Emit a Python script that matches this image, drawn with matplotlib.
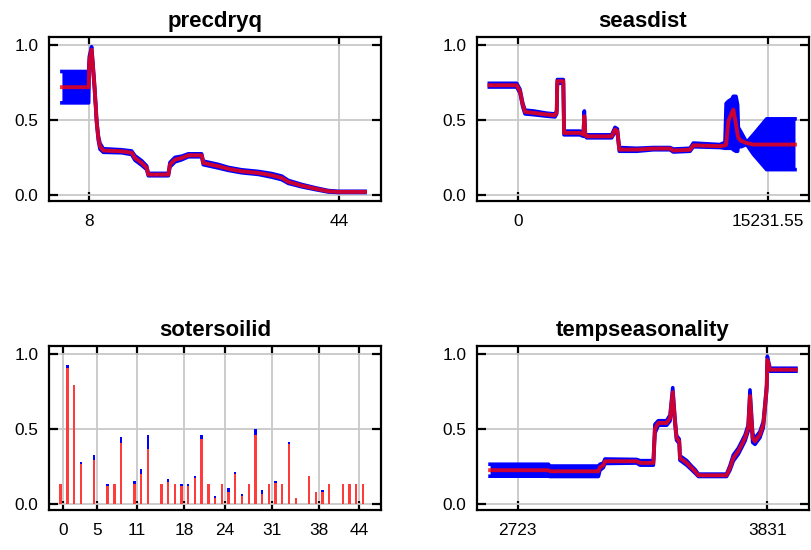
import numpy as np
from matplotlib import pyplot as plt

# precdryq response: mean curve and std
prec_x = [4.1, 7.95, 8.05, 8.38, 8.77, 8.96, 9.1, 9.34, 9.58, 10.06, 12.7, 14.14, 14.62, 15.58,
          16.3, 16.54, 19.43, 19.66, 20.38, 21.34, 22.3, 24.22, 24.46, 26.62, 28.06, 29.98,
          32.38, 34.3, 35.75, 36.7, 38.63, 40.55, 42.47, 43.9, 47.75]
prec_y = [0.719, 0.719, 0.90, 0.97, 0.737, 0.60, 0.49, 0.38, 0.324, 0.295, 0.29, 0.28, 0.245, 0.212,
          0.18, 0.134, 0.134, 0.2, 0.234, 0.245, 0.263, 0.263, 0.212, 0.19, 0.172, 0.156,
          0.145, 0.129, 0.112, 0.085, 0.06, 0.04, 0.022, 0.018, 0.018]
prec_sd = [0.105, 0.105, 0.025, 0.02, 0.015, 0.012, 0.012, 0.015, 0.02, 0.012, 0.01, 0.012, 0.015, 0.015,
           0.012, 0.008, 0.008, 0.015, 0.015, 0.012, 0.01, 0.01, 0.012, 0.012, 0.01, 0.01,
           0.01, 0.012, 0.012, 0.01, 0.008, 0.006, 0.005, 0.004, 0.004]

# seasdist response: mean with lower / upper band
seas_x = [-1728, -63, 140, 303, 445, 952, 1765, 2273, 2374, 2415, 2780, 2821, 3796, 3999, 4060, 4121,
          4202, 5725, 5928, 6071, 6192, 7249, 8264, 9280, 9483, 10498, 10701, 12326, 12631, 12700,
          12834, 13050, 13138, 13301, 13400, 13443, 13600, 13951, 14357, 15170, 16896]
seas_y = [0.732, 0.732, 0.692, 0.603, 0.554, 0.547, 0.536, 0.531, 0.55, 0.759, 0.759, 0.413, 0.413, 0.402, 0.525, 0.40,
          0.39, 0.39, 0.435, 0.425, 0.301, 0.301, 0.308, 0.308, 0.295, 0.30, 0.33, 0.324, 0.33, 0.335,
          0.491, 0.55, 0.569, 0.469, 0.40, 0.38, 0.36, 0.345, 0.335, 0.335, 0.335]
seas_lo = [0.72, 0.72, 0.68, 0.59, 0.54, 0.535, 0.525, 0.52, 0.54, 0.745, 0.745, 0.40, 0.40, 0.39, 0.50, 0.39,
           0.38, 0.38, 0.42, 0.41, 0.29, 0.29, 0.30, 0.30, 0.285, 0.29, 0.32, 0.315, 0.31, 0.31,
           0.31, 0.31, 0.30, 0.29, 0.29, 0.33, 0.32, 0.335, 0.27, 0.167, 0.167]
seas_hi = [0.745, 0.745, 0.705, 0.615, 0.565, 0.56, 0.545, 0.54, 0.56, 0.77, 0.77, 0.425, 0.425, 0.41, 0.56, 0.41,
           0.40, 0.40, 0.45, 0.44, 0.315, 0.31, 0.315, 0.315, 0.305, 0.31, 0.345, 0.335, 0.35, 0.61,
           0.625, 0.64, 0.658, 0.658, 0.60, 0.45, 0.42, 0.35, 0.40, 0.507, 0.507]

# sotersoilid categories: mean and mean+std
soil_cat = [0, 1, 2, 3, 5, 7, 8, 9, 11, 12, 13, 15, 16, 17, 18, 19, 20, 21, 22, 23,
            24, 25, 26, 27, 28, 29, 30, 31, 32, 33, 34, 35, 37, 38, 39, 40, 42, 43, 44, 45]
soil_mean = [0.134, 0.908, 0.792, 0.266, 0.29, 0.12, 0.134, 0.402, 0.132, 0.2, 0.362, 0.134, 0.147, 0.134,
             0.12, 0.12, 0.172, 0.429, 0.134, 0.038, 0.134, 0.078, 0.199, 0.051, 0.134, 0.458, 0.065,
             0.134, 0.136, 0.134, 0.4, 0.038, 0.185, 0.078, 0.078, 0.134, 0.134, 0.134, 0.134, 0.134]
soil_upper = [0.134, 0.926, 0.792, 0.279, 0.324, 0.134, 0.134, 0.442, 0.15, 0.228, 0.458, 0.134, 0.161, 0.134,
              0.134, 0.134, 0.185, 0.458, 0.134, 0.05, 0.134, 0.105, 0.212, 0.0625, 0.134, 0.496, 0.094,
              0.134, 0.15, 0.134, 0.413, 0.038, 0.185, 0.078, 0.094, 0.134, 0.134, 0.134, 0.134, 0.134]

# tempseasonality response
temp_x = [2600, 2859, 2866, 3081, 3088, 3103, 3110, 3251, 3266, 3325, 3332, 3347, 3384, 3399, 3411,
          3421, 3428, 3440, 3443, 3473, 3495, 3510, 3525, 3650, 3665, 3680, 3702, 3717, 3732, 3746,
          3754, 3766, 3776, 3798, 3813, 3820, 3828, 3831, 3843, 3958]
temp_y = [0.223, 0.223, 0.216, 0.216, 0.243, 0.256, 0.283, 0.283, 0.272, 0.272, 0.50, 0.539, 0.539, 0.572, 0.745,
          0.55, 0.439, 0.416, 0.305, 0.272, 0.238, 0.216, 0.189, 0.189, 0.238, 0.305, 0.35, 0.394, 0.439, 0.505,
          0.72, 0.439, 0.416, 0.461, 0.528, 0.639, 0.773, 0.96, 0.895, 0.895]
temp_sd = [0.04, 0.04, 0.035, 0.035, 0.02, 0.015, 0.015, 0.012, 0.015, 0.015, 0.03, 0.015, 0.015, 0.02, 0.03,
           0.02, 0.015, 0.015, 0.015, 0.015, 0.012, 0.012, 0.008, 0.008, 0.015, 0.02, 0.02, 0.02, 0.02, 0.02,
           0.04, 0.03, 0.02, 0.02, 0.02, 0.02, 0.02, 0.025, 0.01, 0.01]

W, H = 812, 550
fig = plt.figure(figsize=(W / 100, H / 100), dpi=100)
plt.rcParams['font.family'] = ['Liberation Sans', 'DejaVu Sans']


def make_axes(l, t, r, b):
    ax = fig.add_axes([l / W, 1 - b / H, (r - l) / W, (b - t) / H])
    ax.set_ylim(-0.043, 1.057)
    ax.set_yticks([0, 0.5, 1.0])
    ax.set_yticklabels(['0.0', '0.5', '1.0'])
    ax.grid(True, color='#c8c8c8', lw=1.3)
    ax.set_axisbelow(True)
    ax.tick_params(direction='in', top=True, right=True, length=6.5, width=1.6, labelsize=12.4)
    ax.tick_params(axis='x', pad=9.5)
    ax.tick_params(axis='y', pad=7.5)
    for s in ax.spines.values():
        s.set_linewidth(1.6)
    return ax


def draw_curve(ax, x, y, lo, hi):
    ax.fill_between(x, lo, hi, color='blue', lw=0)
    ax.plot(x, lo, color='blue', lw=2.6)
    ax.plot(x, hi, color='blue', lw=2.6)
    ax.plot(x, y, color='red', lw=2.8, alpha=0.8)


ax1 = make_axes(49, 36.7, 381, 201)
ax1.set_xlim(2.24, 50.05)
draw_curve(ax1, prec_x, prec_y, np.subtract(prec_y, prec_sd), np.add(prec_y, prec_sd))
ax1.set_xticks([8, 44])
ax1.set_title('precdryq', fontsize=16, fontweight='bold', pad=7)

ax2 = make_axes(477, 36.7, 809, 201)
ax2.set_xlim(-2480, 17749)
draw_curve(ax2, seas_x, seas_y, seas_lo, seas_hi)
ax2.set_xticks([0, 15231.55])
ax2.set_xticklabels(['0', '15231.55'])
ax2.set_title('seasdist', fontsize=16, fontweight='bold', pad=7)

ax3 = make_axes(49, 345.5, 381, 510)
ax3.set_xlim(-2.13, 47.3)
pos = np.array(soil_cat) - 0.4
ax3.bar(pos, soil_upper, width=0.35, color='blue')
ax3.bar(pos, soil_mean, width=0.35, color='#ff3c3c')
ax3.set_xticks([0, 5, 11, 18, 24, 31, 38, 44])
ax3.set_title('sotersoilid', fontsize=16, fontweight='bold', pad=7)

ax4 = make_axes(477, 345.5, 809, 510)
ax4.set_xlim(2542, 4016)
draw_curve(ax4, temp_x, temp_y, np.subtract(temp_y, temp_sd), np.add(temp_y, temp_sd))
ax4.set_xticks([2723, 3831])
ax4.set_title('tempseasonality', fontsize=16, fontweight='bold', pad=7)

plt.savefig('out.png', dpi=100)
